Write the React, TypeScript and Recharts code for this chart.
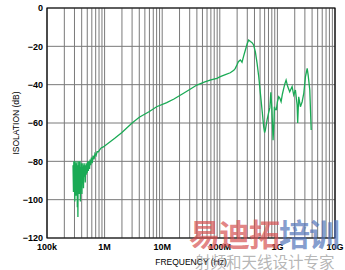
import { CartesianGrid, Label, Line, LineChart, ReferenceArea, XAxis, YAxis } from "recharts";

// frequency (Hz) and isolation (dB)
const freqHz = [
  283e3, 288e3, 292e3, 296e3, 300e3, 304e3, 308e3, 312e3, 316e3, 320e3,
  324e3, 328e3, 332e3, 336e3, 340e3, 344e3, 348e3, 352e3, 356e3, 360e3,
  365e3, 370e3, 375e3, 380e3, 386e3, 392e3, 398e3, 404e3, 410e3, 416e3,
  422e3, 430e3, 438e3, 446e3, 454e3, 462e3, 470e3, 480e3, 490e3, 500e3,
  510e3, 522e3, 535e3, 548e3, 560e3, 575e3, 590e3, 610e3, 630e3, 655e3,
  680e3, 710e3, 740e3, 780e3, 820e3, 870e3, 950e3,
  1.0e6, 1.5e6, 2e6, 3e6, 4e6, 6e6, 8e6, 12e6, 16e6, 23.5e6, 30e6, 40e6,
  55e6, 70e6, 89e6, 102e6, 125e6, 152e6, 175e6, 186e6, 200e6, 210e6,
  227e6, 243e6, 260e6, 278e6, 300e6, 317e6, 340e6, 363e6, 387e6, 415e6,
  444e6, 475e6, 506e6, 545e6, 578e6, 600e6, 618e6, 640e6, 662e6, 700e6,
  740e6, 770e6, 800e6, 841e6, 870e6, 887e6, 920e6, 961e6, 1.0e9, 1.054e9,
  1.1e9, 1.159e9, 1.22e9, 1.288e9, 1.35e9, 1.416e9, 1.51e9, 1.636e9, 1.8e9,
  1.92e9, 2.055e9, 2.2e9, 2.25e9, 2.345e9, 2.51e9, 2.69e9, 2.87e9, 3.07e9,
  3.29e9, 3.42e9, 3.65e9, 3.86e9,
];

const isolationDb = [
  -82, -96, -80, -90, -84, -101, -80, -93, -83, -98,
  -81, -88, -80, -104, -82, -109, -84, -91, -80, -97,
  -82, -89, -80, -101, -83, -92, -81, -97, -83, -90,
  -81, -94, -82, -88, -81, -91, -82, -87, -81, -86,
  -80, -85, -80, -84, -79, -82, -78, -81, -77, -79,
  -76, -77, -75, -75, -74, -73, -72.5,
  -72, -68, -65, -60, -57, -54, -51.5, -49.4, -47.5, -44.5, -42.5, -40.2,
  -38.5, -37.5, -36.7, -35.8, -34.8, -33.8, -32.5, -31.5, -29.5, -28,
  -27.1, -28.3, -25, -21.9, -18.5, -16.7, -17.5, -18.1, -19.3, -23,
  -28.9, -36, -44.4, -54, -62, -65, -63.7, -61, -58.4, -55,
  -52, -44, -52, -69, -60, -51.5, -53, -53, -49, -46.3,
  -47, -48.9, -45, -41.9, -39.5, -37.6, -41, -43.7, -41,
  -45.4, -42.8, -50.6, -60, -46.3, -51.5, -48.9, -44.5, -35.8,
  -31.5, -35, -42.8, -63.7,
];

const decadeTicks = [1e5, 1e6, 1e7, 1e8, 1e9, 1e10];
const decadeLabels = ["100k", "1M", "10M", "100M", "1G", "10G"];
const minorSteps = [2, 3, 4, 5, 6, 7, 8, 9];
const yTicks = [-120, -100, -80, -60, -40, -20, 0];

const data = freqHz.map((f, i) => ({ f, db: isolationDb[i] }));

const xTicks = decadeTicks.flatMap((d, i) =>
  i < decadeTicks.length - 1 ? [d, ...minorSteps.map((m) => d * m)] : [d]
);

const fmtX = (v: number) => {
  const i = decadeTicks.findIndex((d) => Math.abs(d - v) / d < 1e-6);
  return i >= 0 ? decadeLabels[i] : "";
};

const fmtY = (v: number) => (v < 0 ? `\u2212${Math.abs(v)}` : String(v));

const tickStyle = {
  fill: "#000",
  fontSize: 9,
  fontWeight: 700,
  fontFamily: "Liberation Sans, Arial, sans-serif",
};

export default function App() {
  return (
    <div style={{ position: "absolute", left: 0, top: 0, width: 345, height: 270, background: "#fff", overflow: "hidden" }}>
      <LineChart
        width={345}
        height={270}
        data={data}
        margin={{ top: 8, right: 10, left: 0, bottom: 0 }}
      >
        <CartesianGrid stroke="#7a7a7a" strokeWidth={1} />
        <XAxis
          dataKey="f"
          type="number"
          scale="log"
          domain={[1e5, 1e10]}
          ticks={xTicks}
          interval={0}
          tickFormatter={fmtX}
          tickLine={false}
          axisLine={false}
          tickSize={0}
          tickMargin={6}
          height={32}
          tick={tickStyle}
          allowDataOverflow
        >
          <Label
            value="FREQUENCY (Hz)"
            position="insideBottom"
            offset={5}
            style={{ fill: "#000", fontSize: 8.5, fontFamily: "Liberation Sans, Arial, sans-serif" }}
          />
        </XAxis>
        <YAxis
          type="number"
          domain={[-120, 0]}
          ticks={yTicks}
          interval={0}
          tickFormatter={fmtY}
          tickLine={false}
          axisLine={false}
          tickSize={0}
          tickMargin={4}
          width={47}
          tick={tickStyle}
          allowDataOverflow
        >
          <Label
            value="ISOLATION (dB)"
            position="insideLeft"
            content={({ viewBox }: any) => {
              const cy = viewBox.y + viewBox.height / 2;
              return (
                <text
                  x={16}
                  y={cy}
                  transform={`rotate(-90 16 ${cy})`}
                  textAnchor="middle"
                  dominantBaseline="central"
                  style={{ fill: "#000", fontSize: 8.5, fontFamily: "Liberation Sans, Arial, sans-serif" }}
                >
                  ISOLATION (dB)
                </text>
              );
            }}
          />
        </YAxis>
        <ReferenceArea x1={1e5} x2={1e10} y1={-120} y2={0} fill="none" stroke="#000" strokeWidth={1.2} />
        <Line
          dataKey="db"
          stroke="#1aaa55"
          strokeWidth={1.3}
          dot={false}
          isAnimationActive={false}
        />
      </LineChart>
      <div
        style={{
          position: "absolute",
          left: 189,
          top: 215,
          fontSize: 31,
          fontWeight: 700,
          fontFamily: "Noto Sans CJK SC",
          lineHeight: "36px",
          letterSpacing: -1,
          whiteSpace: "nowrap",
        }}
      >
        <span style={{ color: "rgba(214,80,80,0.7)" }}>易迪拓</span>
        <span style={{ color: "rgba(80,115,185,0.7)" }}>培训</span>
      </div>
      <div
        style={{
          position: "absolute",
          left: 195,
          top: 252,
          fontSize: 15.5,
          fontFamily: "Noto Sans CJK SC",
          lineHeight: "18px",
          color: "rgba(120,120,120,0.55)",
          whiteSpace: "nowrap",
        }}
      >
        射频和天线设计专家
      </div>
    </div>
  );
}
